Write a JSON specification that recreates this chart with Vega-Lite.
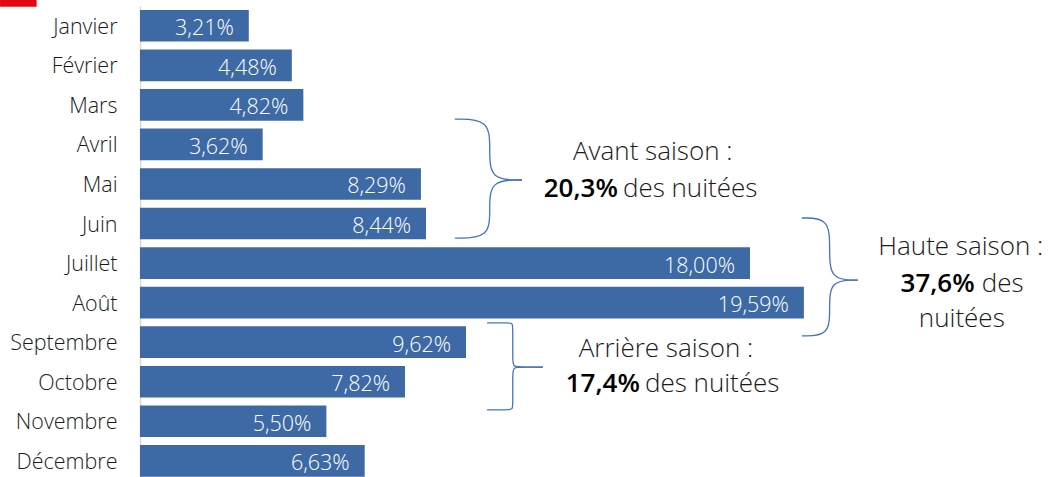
{
  "$schema": "https://vega.github.io/schema/vega-lite/v6.json",
  "width": 915,
  "height": 474.6,
  "autosize": {"type": "none"},
  "padding": {"left": 140, "top": 6, "right": 0, "bottom": 0},
  "background": "white",
  "config": {"view": {"stroke": null}, "font": "Open Sans"},
  "datasets": {
    "mois": [
      {"mois": "Janvier", "v": 3.21, "lab": "3,21%"},
      {"mois": "Février", "v": 4.48, "lab": "4,48%"},
      {"mois": "Mars", "v": 4.82, "lab": "4,82%"},
      {"mois": "Avril", "v": 3.62, "lab": "3,62%"},
      {"mois": "Mai", "v": 8.29, "lab": "8,29%"},
      {"mois": "Juin", "v": 8.44, "lab": "8,44%"},
      {"mois": "Juillet", "v": 18.0, "lab": "18,00%"},
      {"mois": "Août", "v": 19.59, "lab": "19,59%"},
      {"mois": "Septembre", "v": 9.62, "lab": "9,62%"},
      {"mois": "Octobre", "v": 7.82, "lab": "7,82%"},
      {"mois": "Novembre", "v": 5.5, "lab": "5,50%"},
      {"mois": "Décembre", "v": 6.63, "lab": "6,63%"}
    ],
    "braces": [
      {"b": "avant-h", "k": 1, "x": 9.29, "y": 2.36},
      {"b": "avant-h", "k": 2, "x": 10.32, "y": 2.36},
      {"b": "avant-h", "k": 3, "x": 10.32, "y": 3.13},
      {"b": "avant-h", "k": 4, "x": 10.32, "y": 3.9},
      {"b": "avant-h", "k": 5, "x": 11.27, "y": 3.9},
      {"b": "avant-b", "k": 1, "x": 9.29, "y": 5.37},
      {"b": "avant-b", "k": 2, "x": 10.32, "y": 5.37},
      {"b": "avant-b", "k": 3, "x": 10.32, "y": 4.635},
      {"b": "avant-b", "k": 4, "x": 10.32, "y": 3.9},
      {"b": "avant-b", "k": 5, "x": 11.27, "y": 3.9},
      {"b": "haute-h", "k": 1, "x": 19.53, "y": 4.86},
      {"b": "haute-h", "k": 2, "x": 20.35, "y": 4.86},
      {"b": "haute-h", "k": 3, "x": 20.35, "y": 5.645},
      {"b": "haute-h", "k": 4, "x": 20.35, "y": 6.43},
      {"b": "haute-h", "k": 5, "x": 21.18, "y": 6.43},
      {"b": "haute-b", "k": 1, "x": 19.53, "y": 7.84},
      {"b": "haute-b", "k": 2, "x": 20.35, "y": 7.84},
      {"b": "haute-b", "k": 3, "x": 20.35, "y": 7.135},
      {"b": "haute-b", "k": 4, "x": 20.35, "y": 6.43},
      {"b": "haute-b", "k": 5, "x": 21.18, "y": 6.43},
      {"b": "arr-h", "k": 1, "x": 10.24, "y": 7.51},
      {"b": "arr-h", "k": 2, "x": 10.85, "y": 7.51},
      {"b": "arr-h", "k": 3, "x": 11.0, "y": 7.51},
      {"b": "arr-h", "k": 4, "x": 11.0, "y": 7.68},
      {"b": "arr-h", "k": 5, "x": 11.0, "y": 8.45},
      {"b": "arr-h", "k": 6, "x": 11.0, "y": 8.63},
      {"b": "arr-h", "k": 7, "x": 11.3, "y": 8.63},
      {"b": "arr-h", "k": 8, "x": 11.89, "y": 8.63},
      {"b": "arr-b", "k": 1, "x": 10.24, "y": 9.71},
      {"b": "arr-b", "k": 2, "x": 10.85, "y": 9.71},
      {"b": "arr-b", "k": 3, "x": 11.0, "y": 9.71},
      {"b": "arr-b", "k": 4, "x": 11.0, "y": 9.54},
      {"b": "arr-b", "k": 5, "x": 11.0, "y": 8.81},
      {"b": "arr-b", "k": 6, "x": 11.0, "y": 8.63},
      {"b": "arr-b", "k": 7, "x": 11.3, "y": 8.63},
      {"b": "arr-b", "k": 8, "x": 11.89, "y": 8.63}
    ],
    "txtc": [
      {"t": "Avant saison :", "x": 15.13, "y": 3.39},
      {"t": "Haute saison :", "x": 24.22, "y": 5.8},
      {"t": "nuitées", "x": 24.25, "y": 7.62},
      {"t": "Arrière saison :", "x": 15.52, "y": 8.37}
    ],
    "txtb": [
      {"t": "20,3%", "x": 14.1, "y": 4.33},
      {"t": "37,6%", "x": 24.63, "y": 6.72},
      {"t": "17,4%", "x": 14.75, "y": 9.25}
    ],
    "txtl": [
      {"t": "des nuitées", "x": 14.25, "y": 4.33},
      {"t": "des", "x": 24.84, "y": 6.72},
      {"t": "des nuitées", "x": 14.9, "y": 9.25}
    ],
    "marque": [
      {"x": -4.13, "x2": -3.05, "y": -0.652, "y2": -0.48}
    ]
  },
  "resolve": {"scale": {"y": "independent"}},
  "layer": [
    {
      "data": {"name": "mois"},
      "mark": {"type": "bar", "color": "#3D6AA5"},
      "encoding": {
        "y": {
          "field": "mois", "type": "nominal", "sort": null,
          "scale": {"type": "band", "paddingInner": 0.2, "paddingOuter": 0.1},
          "axis": {
            "title": null, "ticks": false, "tickSize": 0, "labelPadding": 23,
            "domainColor": "#D9D9D9", "domainWidth": 1.5,
            "labelFont": "Open Sans", "labelFontSize": 21.5, "labelFontWeight": 300, "labelColor": "#1A1A1A",
            "labelBaseline": "alphabetic", "labelOffset": 8
          }
        },
        "x": {"field": "v", "type": "quantitative", "scale": {"domain": [0, 27], "nice": false}, "axis": null}
      }
    },
    {
      "data": {"name": "mois"},
      "mark": {"type": "text", "color": "white", "align": "right", "baseline": "alphabetic", "dx": -15, "dy": 9.5, "font": "Open Sans", "fontSize": 21.5, "fontWeight": 300},
      "encoding": {
        "y": {"field": "mois", "type": "nominal", "sort": null, "scale": {"type": "band", "paddingInner": 0.2, "paddingOuter": 0.1}, "axis": null},
        "x": {"field": "v", "type": "quantitative", "scale": {"domain": [0, 27], "nice": false}, "axis": null},
        "text": {"field": "lab"}
      }
    },
    {
      "data": {"name": "braces"},
      "mark": {"type": "line", "interpolate": "basis", "color": "#4472C4", "strokeWidth": 1.3},
      "encoding": {
        "x": {"field": "x", "type": "quantitative", "scale": {"domain": [0, 27], "nice": false}, "axis": null},
        "y": {"field": "y", "type": "quantitative", "scale": {"domain": [-0.5, 11.5], "reverse": true, "nice": false, "zero": false}, "axis": null},
        "detail": {"field": "b"},
        "order": {"field": "k"}
      }
    },
    {
      "data": {"name": "txtc"},
      "mark": {"type": "text", "align": "center", "baseline": "alphabetic", "font": "Open Sans", "fontSize": 26, "fontWeight": 300, "color": "#1A1A1A"},
      "encoding": {
        "x": {"field": "x", "type": "quantitative", "scale": {"domain": [0, 27], "nice": false}, "axis": null},
        "y": {"field": "y", "type": "quantitative", "scale": {"domain": [-0.5, 11.5], "reverse": true, "nice": false, "zero": false}, "axis": null},
        "text": {"field": "t"}
      }
    },
    {
      "data": {"name": "txtb"},
      "mark": {"type": "text", "align": "right", "baseline": "alphabetic", "font": "Open Sans", "fontSize": 26, "fontWeight": 600, "color": "#000000"},
      "encoding": {
        "x": {"field": "x", "type": "quantitative", "scale": {"domain": [0, 27], "nice": false}, "axis": null},
        "y": {"field": "y", "type": "quantitative", "scale": {"domain": [-0.5, 11.5], "reverse": true, "nice": false, "zero": false}, "axis": null},
        "text": {"field": "t"}
      }
    },
    {
      "data": {"name": "txtl"},
      "mark": {"type": "text", "align": "left", "baseline": "alphabetic", "font": "Open Sans", "fontSize": 26, "fontWeight": 300, "color": "#1A1A1A"},
      "encoding": {
        "x": {"field": "x", "type": "quantitative", "scale": {"domain": [0, 27], "nice": false}, "axis": null},
        "y": {"field": "y", "type": "quantitative", "scale": {"domain": [-0.5, 11.5], "reverse": true, "nice": false, "zero": false}, "axis": null},
        "text": {"field": "t"}
      }
    },
    {
      "data": {"name": "marque"},
      "mark": {"type": "rect", "color": "#E30613"},
      "encoding": {
        "x": {"field": "x", "type": "quantitative", "scale": {"domain": [0, 27], "nice": false}, "axis": null},
        "x2": {"field": "x2"},
        "y": {"field": "y", "type": "quantitative", "scale": {"domain": [-0.5, 11.5], "reverse": true, "nice": false, "zero": false}, "axis": null},
        "y2": {"field": "y2"}
      }
    }
  ]
}
